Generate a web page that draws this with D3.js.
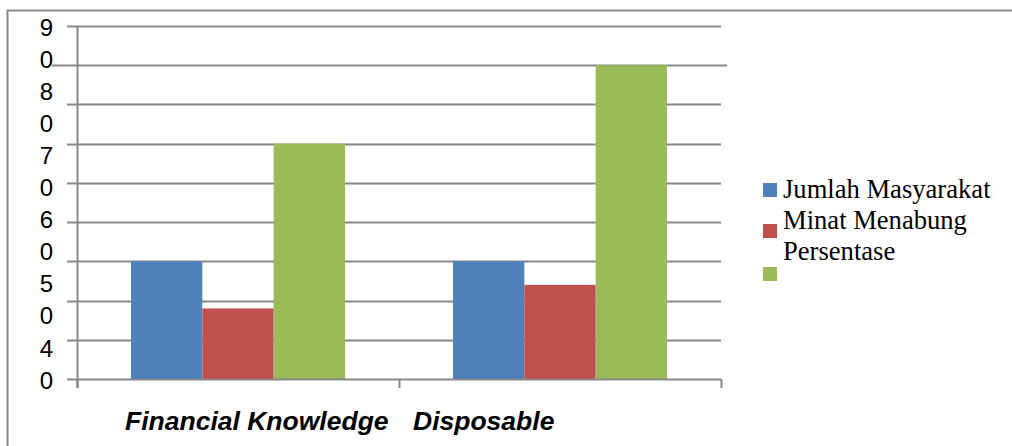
<!DOCTYPE html>
<html>
<head>
<meta charset="utf-8">
<script src="https://cdn.jsdelivr.net/npm/d3@7/dist/d3.min.js"></script>
<style>
  html, body { margin: 0; padding: 0; background: #fff; }
  svg { display: block; }
</style>
</head>
<body>
<div id="chart"></div>
<script>
// data
const categories = ["Financial Knowledge", "Disposable"]
const seriesNames = ["Jumlah Masyarakat", "Minat Menabung", "Persentase"]
const jumlahMasyarakat = [30, 30]
const minatMenabung = [18, 24]
const persentase = [60, 80]
const yTickLabels = ["90", "80", "70", "60", "50", "40"]
const gridValues = [0, 10, 20, 30, 40, 50, 60, 70, 80, 90]

const COLORS = ["#4f81bd", "#c0504d", "#9bbb59"]
const GRID = "#888888"

const W = 1012, H = 446
const plot = { left: 77, right: 721, top: 26, bottom: 379 }

const svg = d3.select("#chart").append("svg")
  .attr("width", W)
  .attr("height", H)

// outer frame (only top and left edges show in the crop)
svg.append("path")
  .attr("d", `M7.5,${H}V10.5H${W}`)
  .attr("fill", "none")
  .attr("stroke", GRID)
  .attr("stroke-width", 2)

const y = d3.scaleLinear().domain([0, 90]).range([plot.bottom, plot.top])
const x0 = d3.scaleBand().domain(categories).range([plot.left, plot.right])
const x1 = d3.scaleBand().domain(seriesNames).range([54, 268])

// gridlines + left tick marks
svg.append("g")
  .selectAll("line")
  .data(gridValues.filter(v => v > 0))
  .join("line")
  .attr("x1", d => d === 80 ? 52 : 67)
  .attr("x2", d => d === 80 ? 727 : plot.right)
  .attr("y1", d => Math.round(y(d)) + 0.5)
  .attr("y2", d => Math.round(y(d)) + 0.5)
  .attr("stroke", GRID)
  .attr("stroke-width", 2)

// bars
const rows = categories.map((c, i) => ({
  cat: c,
  vals: [jumlahMasyarakat[i], minatMenabung[i], persentase[i]]
}))

svg.append("g")
  .selectAll("g")
  .data(rows)
  .join("g")
  .attr("transform", d => `translate(${x0(d.cat)},0)`)
  .selectAll("rect")
  .data(d => d.vals.map((v, j) => ({ name: seriesNames[j], v, j })))
  .join("rect")
  .attr("x", d => x1(d.name))
  .attr("width", x1.bandwidth())
  .attr("y", d => y(d.v))
  .attr("height", d => y(0) - y(d.v))
  .attr("fill", d => COLORS[d.j])

// y axis line
svg.append("line")
  .attr("x1", plot.left + 0.5).attr("x2", plot.left + 0.5)
  .attr("y1", plot.top).attr("y2", plot.bottom + 9)
  .attr("stroke", GRID).attr("stroke-width", 2)

// x axis baseline and category ticks
svg.append("line")
  .attr("x1", 67).attr("x2", plot.right)
  .attr("y1", plot.bottom + 0.5).attr("y2", plot.bottom + 0.5)
  .attr("stroke", GRID).attr("stroke-width", 2)

const tickXs = categories.map(c => x0(c)).concat([plot.right])
svg.append("g")
  .selectAll("line")
  .data(tickXs)
  .join("line")
  .attr("x1", d => d + 0.5).attr("x2", d => d + 0.5)
  .attr("y1", plot.bottom).attr("y2", plot.bottom + 9)
  .attr("stroke", GRID).attr("stroke-width", 2)

// y labels: each two-digit label wrapped one digit per line
const chars = yTickLabels.flatMap(s => s.split(""))
const yc = d3.scalePoint().domain(d3.range(chars.length)).range([27, 380])
svg.append("g")
  .selectAll("text")
  .data(chars)
  .join("text")
  .attr("x", 53)
  .attr("y", (d, i) => yc(i))
  .attr("dy", "0.36em")
  .attr("text-anchor", "end")
  .attr("font-family", "'Liberation Sans', Arial, sans-serif")
  .attr("font-size", "24px")
  .attr("fill", "#000")
  .text(d => d)

// category labels
const catLabelX = [125, 413]
svg.append("g")
  .selectAll("text")
  .data(categories)
  .join("text")
  .attr("x", (d, i) => catLabelX[i])
  .attr("y", 430)
  .attr("font-family", "'Liberation Sans', Arial, sans-serif")
  .attr("font-size", "26.5px")
  .attr("font-weight", "bold")
  .attr("font-style", "italic")
  .attr("fill", "#000")
  .text(d => d)

// legend
const swatchY = [183, 224, 267]
const textY = [198, 229, 260]
const legend = svg.append("g")
legend.selectAll("rect")
  .data(seriesNames)
  .join("rect")
  .attr("x", 763)
  .attr("y", (d, i) => swatchY[i])
  .attr("width", 14)
  .attr("height", 14)
  .attr("fill", (d, i) => COLORS[i])
legend.selectAll("text")
  .data(seriesNames)
  .join("text")
  .attr("x", 783)
  .attr("y", (d, i) => textY[i])
  .attr("font-family", "'Liberation Serif', 'Times New Roman', serif")
  .attr("font-size", "26.6px")
  .attr("fill", "#000")
  .text(d => d)
</script>
</body>
</html>
